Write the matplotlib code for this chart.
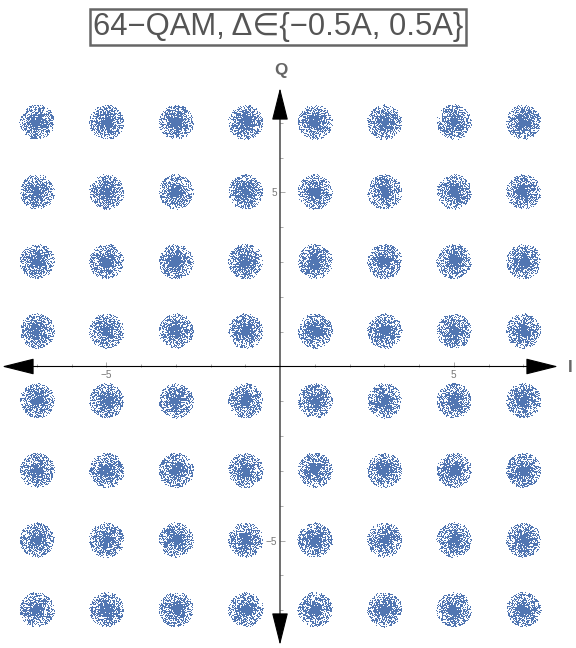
import numpy as np
import matplotlib.pyplot as plt
from matplotlib.ticker import FixedLocator

plt.rcParams['font.family'] = ['Liberation Sans', 'DejaVu Sans']

# 64-QAM constellation levels on each axis
levels_i = [-7, -5, -3, -1, 1, 3, 5, 7]
levels_q = [-7, -5, -3, -1, 1, 3, 5, 7]
delta = 0.5          # max noise radius (title: Δ in ±0.5A)
n_per_symbol = 1100  # received samples per symbol
major_ticks = [-5, 5]
minor_ticks = [-7, -6, -4, -3, -2, -1, 1, 2, 3, 4, 6, 7]

# noise model: uniform radius and angle up to delta (seeded, repeatable)
rng = np.random.default_rng(7)
I_c, Q_c = np.meshgrid(levels_i, levels_q)
I_c = np.repeat(I_c.ravel(), n_per_symbol)
Q_c = np.repeat(Q_c.ravel(), n_per_symbol)
r = rng.uniform(0, delta, I_c.size)
th = rng.uniform(0, 2 * np.pi, I_c.size)
I = I_c + r * np.cos(th)
Q = Q_c + r * np.sin(th)

fig = plt.figure(figsize=(8, 9), dpi=72)
ax = fig.add_axes([2 / 576, 3 / 648, 556 / 576, 557 / 648])
ax.plot(I, Q, ',', color='#5176b2', zorder=2)

ax.set_xlim(-8, 8)
ax.set_ylim(-8, 8)

# axes through origin
for side in ['top', 'right', 'left', 'bottom']:
    ax.spines[side].set_visible(False)
ax.spines['left'].set_position('zero')
ax.spines['bottom'].set_position('zero')

ax.xaxis.set_major_locator(FixedLocator(major_ticks))
ax.yaxis.set_major_locator(FixedLocator(major_ticks))
ax.xaxis.set_minor_locator(FixedLocator(minor_ticks))
ax.yaxis.set_minor_locator(FixedLocator(minor_ticks))
ax.tick_params(which='both', direction='in', color='#888888', width=0.7,
               labelsize=10, labelcolor='#777777')
ax.tick_params(which='major', length=5, pad=3)
ax.tick_params(which='minor', length=3)
ax.set_xticklabels(['\u22125', '5'])
ax.set_yticklabels(['\u22125', '5'])

# arrows for I and Q axes
arrow = dict(arrowstyle='<|-|>,head_length=1.6,head_width=0.4',
             color='black', lw=1.1, mutation_scale=18, shrinkA=0, shrinkB=0)
ax.annotate('', xy=(8, 0), xytext=(-8, 0), arrowprops=arrow, zorder=3)
ax.annotate('', xy=(0, 8), xytext=(0, -8), arrowprops=arrow, zorder=3)

fig.text(570 / 576, 1 - 367 / 648, 'I', fontsize=17, fontweight='bold',
         color='#666666', ha='center', va='center')
fig.text(281 / 576, 1 - 70 / 648, 'Q', fontsize=17, fontweight='bold',
         color='#666666', ha='center', va='center')

fig.text(278 / 576, 1 - 27 / 648, '64\u2212QAM, \u0394\u2208{\u22120.5A, 0.5A}',
         fontsize=31, color='#555555', ha='center', va='center',
         bbox=dict(boxstyle='square,pad=0.1', fc='white', ec='#666666', lw=2.5))

fig.savefig('out.png', dpi=72)
